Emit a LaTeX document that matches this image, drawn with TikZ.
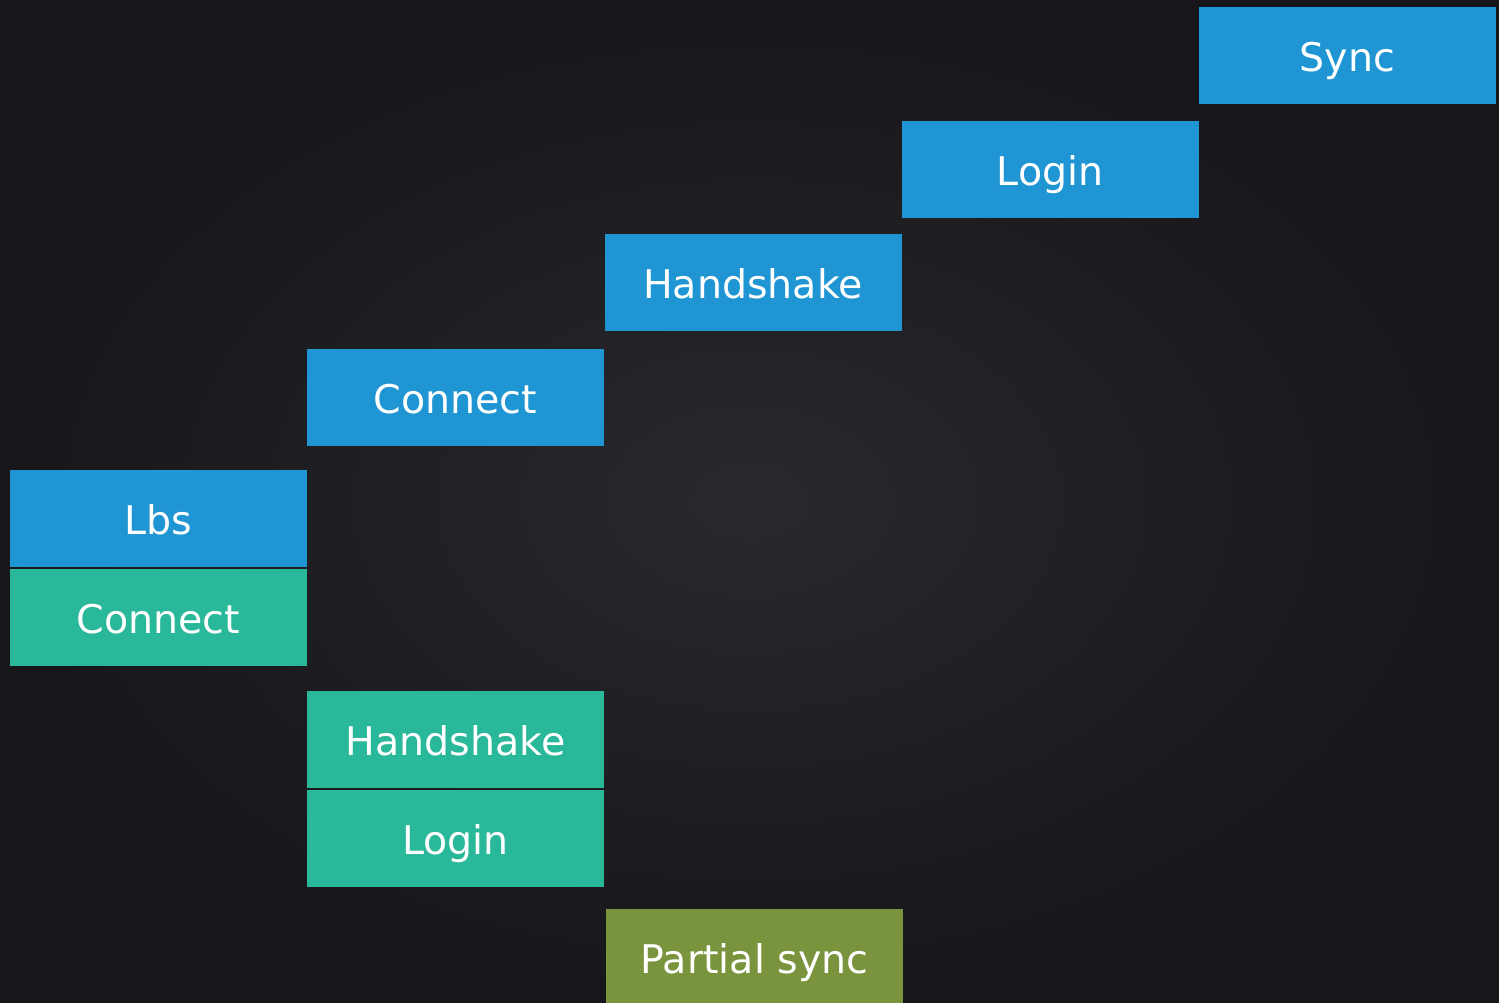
\documentclass[tikz,border=0pt]{standalone}
\usepackage{fontspec}
\setmainfont{DejaVu Sans}
\definecolor{bgin}{HTML}{29292D}
\definecolor{bgout}{HTML}{17171B}
\definecolor{cblue}{HTML}{1F96D3}
\definecolor{cgreen}{HTML}{29B89A}
\definecolor{colive}{HTML}{7A943D}
\tikzset{
  blk/.style={minimum width=297pt, minimum height=97pt, inner sep=0pt, text=white,
    font=\fontsize{39.5}{47}\selectfont, text height=32.8pt, text depth=0pt, anchor=center},
  blueblk/.style={blk, fill=cblue},
  greenblk/.style={blk, fill=cgreen},
  oliveblk/.style={blk, fill=colive}
}
\begin{document}
\begin{tikzpicture}[x=1pt, y=-1pt]
\useasboundingbox (0,0) rectangle (1499,1002);
\shade[inner color=bgin, outer color=bgout] (0,0) rectangle (1499,1002);
\node[blueblk] (sync) at (1347.5,55.5) {Sync};
\node[blueblk] (login1) at (1050,169.5) {Login};
\node[blueblk] (hand1) at (753,282.5) {Handshake};
\node[blueblk] (conn1) at (455.5,397.5) {Connect};
\node[blueblk] (lbs) at (158.5,518.5) {Lbs};
\node[greenblk] (conn2) at (158.5,617.5) {Connect};
\node[greenblk] (hand2) at (455.5,739.5) {Handshake};
\node[greenblk] (login2) at (455.5,838.5) {Login};
\node[oliveblk] (psync) at (754.5,957.5) {Partial sync};
\end{tikzpicture}
\end{document}
